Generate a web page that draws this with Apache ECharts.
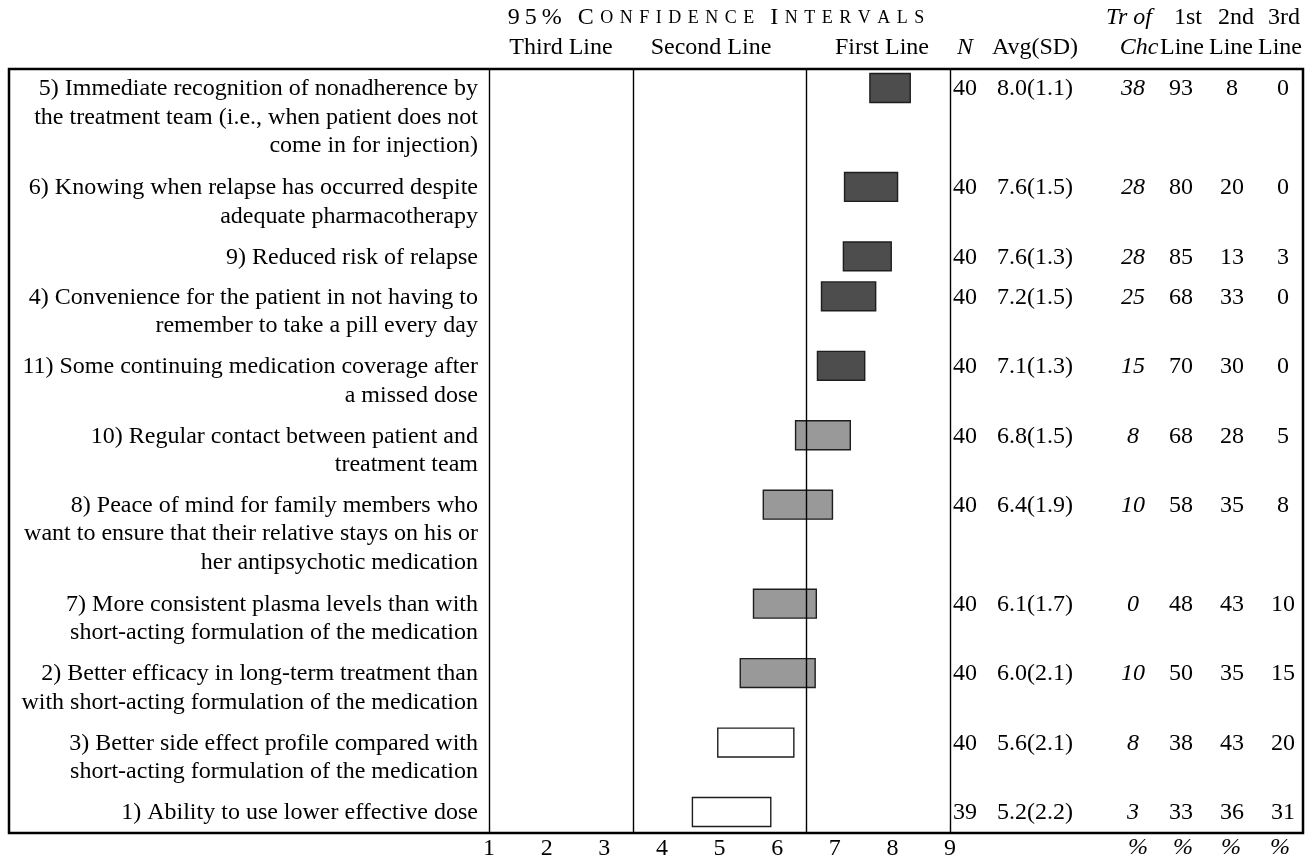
<!DOCTYPE html>
<html>
<head>
<meta charset="utf-8">
<script src="https://cdn.jsdelivr.net/npm/echarts@6/dist/echarts.min.js"></script>
<style>
  html, body { margin: 0; padding: 0; background: #fff; }
  #chart { width: 1312px; height: 857px; }
</style>
</head>
<body>
<div id="chart"></div>
<script>
// Benefit statements (line breaks as typeset in the table)
const items = [
  '5) Immediate recognition of nonadherence by\nthe treatment team (i.e., when patient does not\ncome in for injection)',
  '6) Knowing when relapse has occurred despite\nadequate pharmacotherapy',
  '9) Reduced risk of relapse',
  '4) Convenience for the patient in not having to\nremember to take a pill every day',
  '11) Some continuing medication coverage after\na missed dose',
  '10) Regular contact between patient and\ntreatment team',
  '8) Peace of mind for family members who\nwant to ensure that their relative stays on his or\nher antipsychotic medication',
  '7) More consistent plasma levels than with\nshort-acting formulation of the medication',
  '2) Better efficacy in long-term treatment than\nwith short-acting formulation of the medication',
  '3) Better side effect profile compared with\nshort-acting formulation of the medication',
  '1) Ability to use lower effective dose'
];
// 95% confidence interval bounds of the rating
const ciLow  = [7.61, 7.17, 7.15, 6.77, 6.70, 6.32, 5.76, 5.59, 5.36, 4.97, 4.53];
const ciHigh = [8.31, 8.09, 7.98, 7.71, 7.52, 7.27, 6.96, 6.68, 6.66, 6.29, 5.89];
// shading group of each interval: 1 = dark, 2 = grey, 3 = open
const shade  = [1, 1, 1, 1, 1, 2, 2, 2, 2, 3, 3];
const nResp  = [40, 40, 40, 40, 40, 40, 40, 40, 40, 40, 39];
const avg    = [8.0, 7.6, 7.6, 7.2, 7.1, 6.8, 6.4, 6.1, 6.0, 5.6, 5.2];
const sd     = [1.1, 1.5, 1.3, 1.5, 1.3, 1.5, 1.9, 1.7, 2.1, 2.1, 2.2];
const trChc  = [38, 28, 28, 25, 15, 8, 10, 0, 10, 8, 3];
const pct1st = [93, 80, 85, 68, 70, 68, 58, 48, 50, 38, 33];
const pct2nd = [8, 20, 13, 33, 30, 28, 35, 43, 35, 43, 36];
const pct3rd = [0, 0, 3, 0, 0, 5, 8, 10, 15, 20, 31];
const xTicks = [1, 2, 3, 4, 5, 6, 7, 8, 9];
const zoneEdges = [1, 3.5, 6.5, 9];

const FONT = 'Liberation Serif';
const FS = 24;
const shadeFill = { 1: '#4d4d4d', 2: '#999999', 3: '#ffffff' };

// vertical layout in text-line units: each row takes its line count plus a gap
const GAP = 0.356, PAD = 0.144, BAR_H = 0.98;
const rowCenter = [];
let acc = 0;
items.forEach(t => {
  const lines = t.split('\n').length;
  rowCenter.push(acc + PAD + 0.5);
  acc += lines + GAP;
});
const yMax = acc;

const GRID = { left: 489, top: 69, width: 461, height: 764, outerBoundsMode: 'none', containLabel: false };
const BOX = { x: 9, y: 69, w: 1294, h: 764 };
const LABEL_RIGHT = 478;
const COL_X = { n: 965, avg: 1035, tr: 1133, p1: 1181, p2: 1232, p3: 1283 };

const seriesData = items.map((_, i) => [ciLow[i], ciHigh[i], rowCenter[i], i]);

function txt(text, x, y, opts) {
  return {
    type: 'text',
    style: Object.assign({
      text: text, x: x, y: y,
      font: FS + 'px "' + FONT + '"',
      fill: '#000', align: 'center', verticalAlign: 'middle'
    }, opts || {})
  };
}

function renderRow(params, api) {
  const i = api.value(3);
  const yc = api.value(2);
  const p0 = api.coord([api.value(0), yc]);
  const p1 = api.coord([api.value(1), yc]);
  const h = api.size([0, BAR_H])[1];
  const cy = p0[1];
  const lineH = api.size([0, 1])[1] * 0.965;
  const ty = cy + 1;
  const children = [
    {
      type: 'rect',
      shape: { x: p0[0], y: cy - h / 2, width: p1[0] - p0[0], height: h },
      style: { fill: shadeFill[shade[i]], stroke: '#1e1e1e', lineWidth: 1.4 }
    },
    txt(items[i], LABEL_RIGHT, ty - lineH / 2,
        { align: 'right', verticalAlign: 'top', lineHeight: lineH }),
    txt(String(nResp[i]), COL_X.n, ty),
    txt(avg[i].toFixed(1) + '(' + sd[i].toFixed(1) + ')', COL_X.avg, ty),
    txt(String(trChc[i]), COL_X.tr, ty, { font: 'italic ' + FS + 'px "' + FONT + '"' }),
    txt(String(pct1st[i]), COL_X.p1, ty),
    txt(String(pct2nd[i]), COL_X.p2, ty),
    txt(String(pct3rd[i]), COL_X.p3, ty)
  ];
  return { type: 'group', children: children };
}

// small-caps heading built from rich-text runs; gapStyle sets the letter spacing
function smallCaps(str, gapStyle) {
  const parts = [];
  str.split(' ').forEach((word, w) => {
    if (w > 0) parts.push('{w| }');
    const chars = word.split('');
    chars.forEach((c, k) => {
      if (k > 0) parts.push('{' + gapStyle + '| }');
      const isLower = c !== c.toUpperCase();
      parts.push(isLower ? '{sc|' + c.toUpperCase() + '}' : '{cap|' + c + '}');
    });
  });
  return parts.join('');
}

const chart = echarts.init(document.getElementById('chart'), null, { renderer: 'canvas' });

const headerTexts = [
  { t: 'Third Line', x: 561 }, { t: 'Second Line', x: 711 }, { t: 'First Line', x: 882 }
].map(o => txt(o.t, o.x, 48));

const tableHead = [
  txt('N', COL_X.n, 48, { font: 'italic ' + FS + 'px "' + FONT + '"' }),
  txt('Avg(SD)', COL_X.avg, 48),
  txt('Tr of', 1129, 18, { font: 'italic ' + FS + 'px "' + FONT + '"' }),
  txt('Chc', 1139, 48, { font: 'italic ' + FS + 'px "' + FONT + '"' }),
  txt('1st', 1188, 18), txt('Line', 1182, 48),
  txt('2nd', 1236, 18), txt('Line', 1231, 48),
  txt('3rd', 1284, 18), txt('Line', 1280, 48)
];
const pctFoot = [1138, 1183, 1231, 1280].map(x =>
  txt('%', x, 848, { font: 'italic ' + FS + 'px "' + FONT + '"' }));

chart.setOption({
  animation: false,
  backgroundColor: '#fff',
  grid: GRID,
  xAxis: {
    type: 'value', min: xTicks[0], max: xTicks[xTicks.length - 1], interval: 1,
    axisLine: { show: false }, axisTick: { show: false }, splitLine: { show: false },
    axisLabel: { fontFamily: FONT, fontSize: FS, color: '#000', margin: 4 }
  },
  yAxis: { type: 'value', inverse: true, min: 0, max: yMax, show: false },
  series: [{
    type: 'custom',
    renderItem: renderRow,
    encode: { x: [0, 1], y: 2 },
    data: seriesData,
    clip: false,
    silent: true,
    markLine: {
      silent: true, symbol: 'none', animation: false,
      label: { show: false },
      lineStyle: { color: '#000', width: 1.4, type: 'solid' },
      data: zoneEdges.map(v => ({ xAxis: v }))
    }
  }],
  graphic: [
    {
      type: 'rect',
      shape: { x: BOX.x, y: BOX.y, width: BOX.w, height: BOX.h },
      style: { fill: 'none', stroke: '#000', lineWidth: 2.5 }
    },
    {
      type: 'text',
      style: {
        text: smallCaps('95%', 'd') + '{w| }' + smallCaps('Confidence Intervals', 'g'),
        x: 716, y: 18, align: 'center', verticalAlign: 'middle',
        rich: {
          cap: { fontFamily: FONT, fontSize: FS, color: '#000' },
          sc: { fontFamily: FONT, fontSize: 18, color: '#000' },
          g: { fontFamily: FONT, fontSize: 18, width: 6.5 },
          d: { fontFamily: FONT, fontSize: 18, width: 5 },
          w: { fontFamily: FONT, fontSize: FS, width: 16 }
        }
      }
    }
  ].concat(headerTexts, tableHead, pctFoot).map(g => Object.assign({ z: 100 }, g))
});
</script>
</body>
</html>
